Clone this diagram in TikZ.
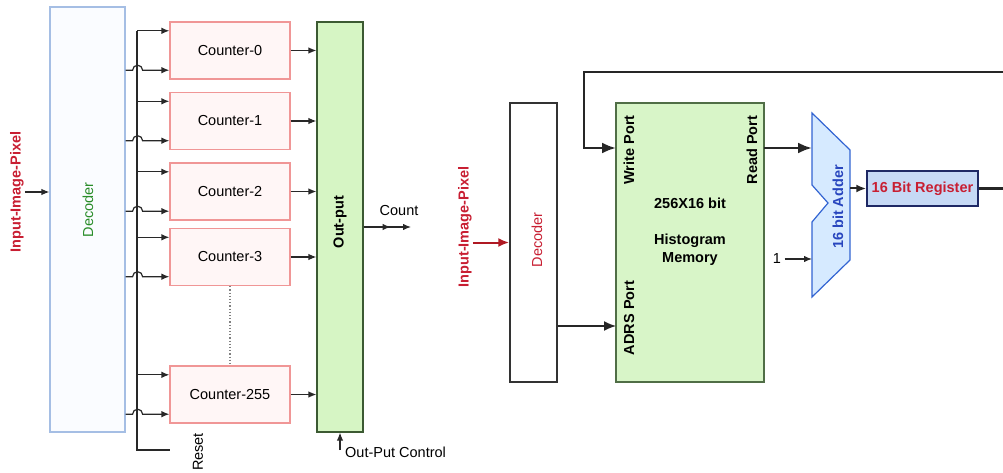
\documentclass[tikz,border=0pt]{standalone}
\usepackage{fontspec}
\setmainfont{Liberation Sans}
\usepackage{xcolor}
\usetikzlibrary{arrows.meta}
\definecolor{decline}{RGB}{165,190,228}
\definecolor{decfill}{RGB}{250,252,255}
\definecolor{ctrline}{RGB}{240,150,150}
\definecolor{ctrfill}{RGB}{255,246,246}
\definecolor{outline}{RGB}{60,90,50}
\definecolor{outfill}{RGB}{214,245,196}
\definecolor{memline}{RGB}{80,110,70}
\definecolor{memfill}{RGB}{216,245,200}
\definecolor{addline}{RGB}{50,100,210}
\definecolor{addfill}{RGB}{214,234,255}
\definecolor{addtext}{RGB}{40,70,190}
\definecolor{regline}{RGB}{30,40,100}
\definecolor{regfill}{RGB}{198,217,245}
\definecolor{myred}{RGB}{200,30,50}
\definecolor{darkred}{RGB}{175,25,35}
\definecolor{mygreen}{RGB}{40,140,40}
\definecolor{wiregray}{RGB}{40,40,40}

\begin{document}
\begin{tikzpicture}[x=1pt,y=-1pt,
  font=\fontsize{14.5}{16}\selectfont,
  bfont/.style={font=\fontsize{14.5}{16}\selectfont\bfseries},
  vlabel/.style={rotate=90, inner sep=1},
  wire/.style={draw=wiregray, line width=1.2},
  tip/.style={-{Latex[length=8pt,width=6.5pt]}},
  bigtip/.style={-{Latex[length=14pt,width=11pt]}},
  ctrbox/.style={draw=ctrline, fill=ctrfill, line width=1.2, minimum width=120, minimum height=57},
  thickwire/.style={draw=black!85, line width=2.5}]
\useasboundingbox (0,0) rectangle (1003,473);
\clip (0,0) rectangle (1003,473);

% left: decoder and counters
\node[draw=decline, fill=decfill, line width=1.2, minimum width=75, minimum height=425] (dec) at (87.5,219.5) {};
\node[vlabel, text=mygreen] (decl) at (88,210) {Decoder};
\node[vlabel, bfont, text=myred] (inl) at (17,192) {Input-Image-Pixel};
\draw[wire,tip] (inl.south) -- (dec.west |- inl.south);

\node[ctrbox] (c0) at (230,50.5) {Counter-0};
\node[ctrbox] (c1) at (230,121) {Counter-1};
\node[ctrbox] (c2) at (230,191.5) {Counter-2};
\node[ctrbox] (c3) at (230,257) {Counter-3};
\node[ctrbox] (c255) at (230,394.5) {Counter-255};
\draw[dotted, line width=1.2, gray] (c3.south) -- (c255.north);

\node[draw=outline, fill=outfill, line width=1.2, minimum width=46, minimum height=410] (out) at (340,227) {};
\node[vlabel, bfont] (outl) at (340,222) {Out-put};

% reset bus
\coordinate (bus) at (137,0);
\coordinate (rst) at (170,450);
\draw[wire] (bus |- c0.162) -- (bus |- rst) -- (rst);
\node[vlabel] (rstl) at (198,452) {Reset};

\draw[wire,tip] (bus |- c0.162) -- (c0.162);
\draw[wire,tip] (dec.east |- c0.198) -- ++(7,0) arc (180:360:5) -- (c0.198);
\draw[wire,tip] (c0.east) -- (out.west |- c0.east);
\draw[wire,tip] (bus |- c1.162) -- (c1.162);
\draw[wire,tip] (dec.east |- c1.198) -- ++(7,0) arc (180:360:5) -- (c1.198);
\draw[wire,tip] (c1.east) -- (out.west |- c1.east);
\draw[wire,tip] (bus |- c2.162) -- (c2.162);
\draw[wire,tip] (dec.east |- c2.198) -- ++(7,0) arc (180:360:5) -- (c2.198);
\draw[wire,tip] (c2.east) -- (out.west |- c2.east);
\draw[wire,tip] (bus |- c3.162) -- (c3.162);
\draw[wire,tip] (dec.east |- c3.198) -- ++(7,0) arc (180:360:5) -- (c3.198);
\draw[wire,tip] (c3.east) -- (out.west |- c3.east);
\draw[wire,tip] (bus |- c255.162) -- (c255.162);
\draw[wire,tip] (dec.east |- c255.198) -- ++(7,0) arc (180:360:5) -- (c255.198);
\draw[wire,tip] (c255.east) -- (out.west |- c255.east);

% count out and control
\coordinate (cnt) at (411,227);
\draw[wire,tip] (out.east) -- (cnt);
\draw[wire,tip] (out.east) -- ++(27,0);
\node (cntl) at (399,211) {Count};
\coordinate (opc) at (340,450);
\draw[wire,tip] (opc) -- (out.south);
\node[anchor=west, inner sep=1] (opcl) at (344,452) {Out-Put Control};

% right: histogram memory
\node[vlabel, bfont, text=myred] (inr) at (465,227) {Input-Image-Pixel};
\node[draw=black!80, fill=white, line width=1.5, minimum width=47, minimum height=279] (dec2) at (533.5,242.5) {};
\node[vlabel, text=myred] (dec2l) at (537,240) {Decoder};
\draw[-{Latex[length=11pt,width=9pt]}, line width=2, draw=darkred] (inr.south |- dec2.west) -- (dec2.west);

\node[draw=memline, fill=memfill, line width=1.5, minimum width=148, minimum height=279] (mem) at (690,242.5) {};
\node[vlabel, bfont] (wrl) at (629,150) {Write Port};
\node[vlabel, bfont] (adl) at (629,318) {ADRS Port};
\node[vlabel, bfont] (rdl) at (752,150) {Read Port};
\node[bfont] (size) at (690,203) {256X16 bit};
\node[align=center, font=\fontsize{14.5}{18}\selectfont\bfseries] (hist) at (690,250) {Histogram\\Memory};

\coordinate (wr) at (616,148);
\coordinate (adrs) at (616,326);
\coordinate (rd) at (764,148);
\draw[-{Latex[length=12pt,width=10pt]}, line width=1.5, draw=black!85] (dec2.east |- adrs) -- (adrs);

% adder
\draw[line width=1.2, draw=addline, fill=addfill] (812,113) -- (850,150) -- (850,260) -- (812,297) -- (812,222) -- (828,203) -- (812,185) -- cycle;
\node[vlabel, bfont, text=addtext] (addl) at (838,207) {16 bit Adder};
\coordinate (addin) at (812,148);
\coordinate (addone) at (812,259);
\coordinate (addout) at (850,188.5);
\draw[thickwire,bigtip] (rd) -- (addin);
\node (one) at (777,259) {1};
\draw[wire,tip] (one) -- (addone);

\node[draw=regline, fill=regfill, line width=1.5, minimum width=111, minimum height=35, text=myred, bfont] (reg) at (922.5,188.5) {16 Bit Register};
\draw[-{Latex[length=10pt,width=8pt]}, line width=2, draw=black!85] (addout) -- (reg.west);

% feedback to write port
\coordinate (fbr) at (1010,72);
\coordinate (fbl) at (584,72);
\draw[thickwire,bigtip] (reg.east) -| (fbr) -- (fbl) |- (wr);
\end{tikzpicture}
\end{document}
